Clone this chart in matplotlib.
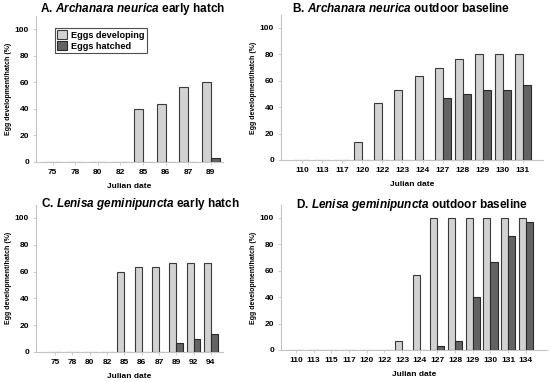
import numpy as np
import matplotlib.pyplot as plt

plt.rcParams['font.family'] = 'Liberation Sans'
plt.rcParams['font.weight'] = 'bold'
plt.rcParams['mathtext.fontset'] = 'custom'
plt.rcParams['mathtext.it'] = 'Liberation Sans:italic:bold'
plt.rcParams['mathtext.rm'] = 'Liberation Sans:bold'

# Datos
fechas_a = ['75', '78', '80', '82', '85', '86', '87', '89']
dev_a = [0, 0, 0, 0, 40, 43.3, 56.7, 60]
hat_a = [0, 0, 0, 0, 0, 0, 0, 3.3]

fechas_b = ['110', '113', '117', '120', '122', '123', '124', '127', '128', '129', '130', '131']
dev_b = [0, 0, 0, 13.3, 43.3, 53.3, 63.3, 70, 76.7, 80, 80, 80]
hat_b = [0, 0, 0, 0, 0, 0, 0, 46.7, 50, 53.3, 53.3, 56.7]

fechas_c = ['75', '78', '80', '82', '85', '86', '87', '89', '92', '94']
dev_c = [0, 0, 0, 0, 60, 63.3, 63.3, 66.7, 66.7, 66.7]
hat_c = [0, 0, 0, 0, 0, 0, 0, 6.7, 10, 13.3]

fechas_d = ['110', '113', '115', '117', '120', '122', '123', '124', '127', '128', '129', '130', '131', '134']
dev_d = [0, 0, 0, 0, 0, 0, 6.7, 56.7, 100, 100, 100, 100, 100, 100]
hat_d = [0, 0, 0, 0, 0, 0, 0, 0, 3.3, 6.7, 40, 66.7, 86.7, 96.7]

titulos = [r'A. $\mathit{Archanara\ neurica}$ early hatch',
           r'B. $\mathit{Archanara\ neurica}$ outdoor baseline',
           r'C. $\mathit{Lenisa\ geminipuncta}$ early hatch',
           r'D. $\mathit{Lenisa\ geminipuncta}$ outdoor baseline']

W, H = 550, 382
fig = plt.figure(figsize=(5.5, 3.82), dpi=100)

# (izq, der, y0, px por unidad, xlim, posicion titulo)
paneles = [
    (fechas_a, dev_a, hat_a, (36, 223, 162, 1.33), (-0.73, 7.54), (133, 9)),
    (fechas_b, dev_b, hat_b, (281, 543, 160, 1.32), (-1.05, 12.0), (401, 8)),
    (fechas_c, dev_c, hat_c, (36, 223, 352, 1.34), (-1.1, 9.7), (140, 204)),
    (fechas_d, dev_d, hat_d, (281, 547, 350, 1.32), (-0.85, 14.2), (412, 205)),
]

c_dev = '#d2d2d2'
c_hat = '#636363'
axes = []
for i, (fechas, dev, hat, (l, r, y0, k), xl, (xt, yt)) in enumerate(paneles):
    top = 110
    ax = fig.add_axes([l / W, (H - y0) / H, (r - l) / W, top * k / H])
    x = np.arange(len(fechas))
    w = 0.4
    ax.bar(x - w / 2, dev, w, color=c_dev, edgecolor='#3a3a3a', linewidth=0.8,
           label='Eggs developing', zorder=3)
    ax.bar(x + w / 2, hat, w, color=c_hat, edgecolor='#2a2a2a', linewidth=0.8,
           label='Eggs hatched', zorder=3)
    ax.set_xlim(xl)
    ax.set_ylim(0, top)
    ax.set_yticks([0, 20, 40, 60, 80, 100])
    ax.set_xticks(x)
    ax.set_xticklabels(fechas)
    ax.tick_params(labelsize=6, length=2, width=0.5, color='#bbbbbb', pad=3)
    for s in ['top', 'right']:
        ax.spines[s].set_visible(False)
    for s in ['left', 'bottom']:
        ax.spines[s].set_color('#c4c4c4')
        ax.spines[s].set_linewidth(0.8)
    ax.set_xlabel('Julian date', fontsize=6, fontweight='bold', labelpad=5)
    ax.set_ylabel('Egg development/hatch (%)', fontsize=5, fontweight='bold', labelpad=2)
    fig.text(xt / W, 1 - yt / H, titulos[i], fontsize=8.5, fontweight='bold',
             ha='center', va='center')
    axes.append(ax)

leg = axes[0].legend(loc='upper left', bbox_to_anchor=(50 / W, 1 - 23 / H),
                     bbox_transform=fig.transFigure, fontsize=6.6, frameon=True,
                     fancybox=False, edgecolor='#222222', handlelength=1.0, handleheight=1.0,
                     handletextpad=0.5, borderpad=0.3, labelspacing=0.2)
leg.get_frame().set_linewidth(0.8)

fig.savefig('out.png', dpi=100)
